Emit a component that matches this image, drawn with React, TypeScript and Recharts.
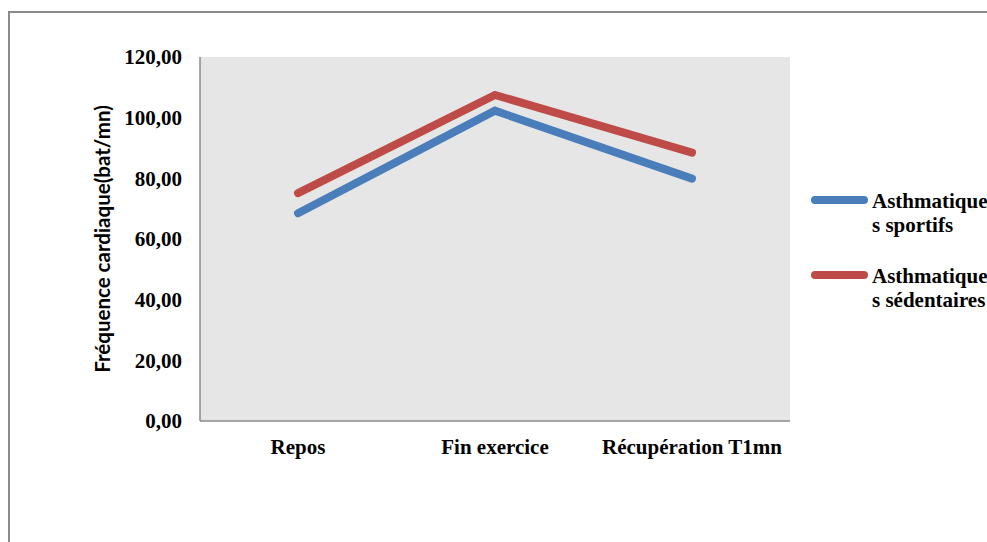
import React from 'react';
import { LineChart, Line, XAxis, YAxis, CartesianGrid } from 'recharts';

const categories = ['Repos', 'Fin exercice', 'Récupération T1mn'];
const sportifs = [68.5, 102.3, 79.9];
const sedentaires = [75.1, 107.5, 88.5];
const yTicks = [0, 20, 40, 60, 80, 100, 120];
const seriesNames = ['Asthmatiques sportifs', 'Asthmatiques sédentaires'];
const seriesColors = ['#4A7EBB', '#BE4B48'];
const yLabel = 'Fréquence cardiaque(bat/mn)';

const data = categories.map((c, i) => ({ cat: c, s: sportifs[i], d: sedentaires[i] }));

const serif = '"Liberation Serif", "Times New Roman", serif';

const fmt = (v: number) => v.toFixed(2).replace('.', ',');

const LegendBlock = () => (
  <div style={{ position: 'absolute', left: 808, top: 196, width: 200, height: 150 }}>
    {seriesNames.map((name, i) => (
      <div key={name} style={{ position: 'absolute', left: 0, top: i * 75, width: 200, height: 60 }}>
        <div
          style={{
            position: 'absolute',
            left: 3,
            top: 0,
            width: 57,
            height: 8,
            borderRadius: 4,
            background: seriesColors[i],
          }}
        />
        <div
          style={{
            position: 'absolute',
            left: 64,
            top: -7,
            fontFamily: serif,
            fontWeight: 'bold',
            fontSize: 21,
            lineHeight: '24px',
            color: '#000',
            whiteSpace: 'nowrap',
          }}
        >
          <div>{name.slice(0, 11)}</div>
          <div>{name.slice(11)}</div>
        </div>
      </div>
    ))}
  </div>
);

export default function App() {
  return (
    <div style={{ position: 'absolute', left: 0, top: 0, width: 987, height: 542, overflow: 'hidden', background: '#fff' }}>
      <div
        style={{
          position: 'absolute',
          left: 8,
          top: 11,
          width: 1200,
          height: 800,
          borderLeft: '2px solid #8a8a8a',
          borderTop: '2px solid #8a8a8a',
        }}
      />
      <div style={{ position: 'absolute', left: 0, top: 0 }}>
        <LineChart
          width={987}
          height={542}
          data={data}
          margin={{ top: 57, right: 197, bottom: 91, left: 10 }}
        >
          <CartesianGrid fill="#e6e6e6" horizontal={false} vertical={false} />
          <XAxis
            dataKey="cat"
            height={30}
            padding={{ left: 98, right: 98 }}
            axisLine={{ stroke: '#8a8a8a', strokeWidth: 1.5 }}
            tickLine={false}
            tickSize={6}
            tickMargin={12}
            interval={0}
            tick={{ fill: '#000', fontFamily: serif, fontWeight: 'bold', fontSize: 21 }}
          />
          <YAxis
            width={190}
            domain={[0, 120]}
            ticks={yTicks}
            interval={0}
            tickFormatter={fmt}
            axisLine={{ stroke: '#8a8a8a', strokeWidth: 1.5 }}
            tickLine={false}
            tickSize={6}
            tickMargin={12}
            tick={{ fill: '#000', fontFamily: serif, fontWeight: 'bold', fontSize: 21 }}
            label={{
              value: yLabel,
              angle: -90,
              position: 'center',
              dx: -2,
              style: { fill: '#000', fontFamily: 'Lato, "Open Sans", sans-serif', fontWeight: 'bold', fontSize: 20.5, textAnchor: 'middle' },
            }}
          />
          <Line
            dataKey="s"
            name={seriesNames[0]}
            stroke={seriesColors[0]}
            strokeWidth={8}
            strokeLinecap="round"
            dot={false}
            isAnimationActive={false}
          />
          <Line
            dataKey="d"
            name={seriesNames[1]}
            stroke={seriesColors[1]}
            strokeWidth={8}
            strokeLinecap="round"
            dot={false}
            isAnimationActive={false}
          />
        </LineChart>
      </div>
      <LegendBlock />
    </div>
  );
}
